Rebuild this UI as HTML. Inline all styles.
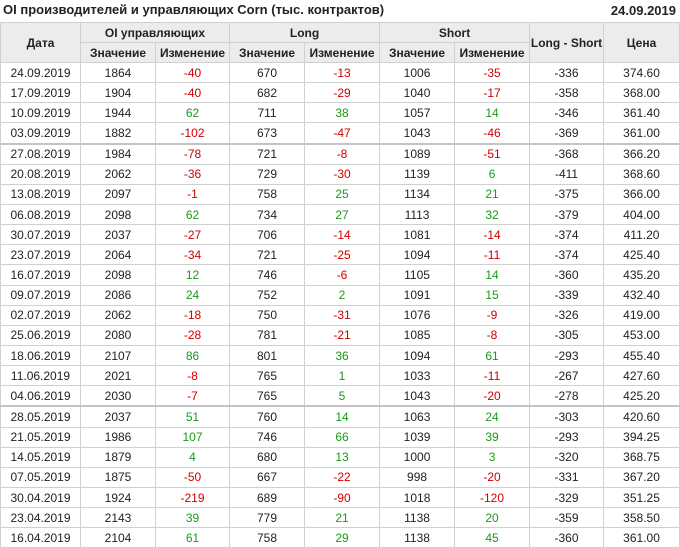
<!DOCTYPE html>
<html><head><meta charset="utf-8"><style>
body{margin:0;width:680px;height:548px;background:#fff;font-family:"Liberation Sans",Arial,sans-serif;overflow:hidden;position:relative}
.t{position:absolute;top:2px;left:3px;font-weight:bold;font-size:13px;color:#222}
.d{position:absolute;top:3px;right:4px;font-weight:bold;font-size:13px;color:#222}
table{position:absolute;top:22px;left:0;border-collapse:collapse;table-layout:fixed;width:679px;font-size:12px;color:#222}
td,th{border:1px solid #d0d0d0;text-align:center;padding:0;height:19.15px;line-height:14px;white-space:nowrap}
th{background:#ececec;font-weight:bold;font-size:12px;height:19px}
.r{color:#d00000}.g{color:#1a9a1a}
tr.s td{border-top:2px solid #c4c4c4}
</style></head><body>
<div class="t">OI производителей и управляющих Corn (тыс. контрактов)</div>
<div class="d">24.09.2019</div>
<table>
<colgroup><col style="width:80px"><col style="width:75px"><col style="width:74px"><col style="width:75px"><col style="width:75px"><col style="width:75px"><col style="width:75px"><col style="width:74px"><col style="width:76px"></colgroup>
<tr><th rowspan="2">Дата</th><th colspan="2">OI управляющих</th><th colspan="2">Long</th><th colspan="2">Short</th><th rowspan="2">Long - Short</th><th rowspan="2">Цена</th></tr>
<tr><th>Значение</th><th>Изменение</th><th>Значение</th><th>Изменение</th><th>Значение</th><th>Изменение</th></tr>
<tr><td>24.09.2019</td><td>1864</td><td class="r">-40</td><td>670</td><td class="r">-13</td><td>1006</td><td class="r">-35</td><td>-336</td><td>374.60</td></tr>
<tr><td>17.09.2019</td><td>1904</td><td class="r">-40</td><td>682</td><td class="r">-29</td><td>1040</td><td class="r">-17</td><td>-358</td><td>368.00</td></tr>
<tr><td>10.09.2019</td><td>1944</td><td class="g">62</td><td>711</td><td class="g">38</td><td>1057</td><td class="g">14</td><td>-346</td><td>361.40</td></tr>
<tr><td>03.09.2019</td><td>1882</td><td class="r">-102</td><td>673</td><td class="r">-47</td><td>1043</td><td class="r">-46</td><td>-369</td><td>361.00</td></tr>
<tr class="s"><td>27.08.2019</td><td>1984</td><td class="r">-78</td><td>721</td><td class="r">-8</td><td>1089</td><td class="r">-51</td><td>-368</td><td>366.20</td></tr>
<tr><td>20.08.2019</td><td>2062</td><td class="r">-36</td><td>729</td><td class="r">-30</td><td>1139</td><td class="g">6</td><td>-411</td><td>368.60</td></tr>
<tr><td>13.08.2019</td><td>2097</td><td class="r">-1</td><td>758</td><td class="g">25</td><td>1134</td><td class="g">21</td><td>-375</td><td>366.00</td></tr>
<tr><td>06.08.2019</td><td>2098</td><td class="g">62</td><td>734</td><td class="g">27</td><td>1113</td><td class="g">32</td><td>-379</td><td>404.00</td></tr>
<tr><td>30.07.2019</td><td>2037</td><td class="r">-27</td><td>706</td><td class="r">-14</td><td>1081</td><td class="r">-14</td><td>-374</td><td>411.20</td></tr>
<tr><td>23.07.2019</td><td>2064</td><td class="r">-34</td><td>721</td><td class="r">-25</td><td>1094</td><td class="r">-11</td><td>-374</td><td>425.40</td></tr>
<tr><td>16.07.2019</td><td>2098</td><td class="g">12</td><td>746</td><td class="r">-6</td><td>1105</td><td class="g">14</td><td>-360</td><td>435.20</td></tr>
<tr><td>09.07.2019</td><td>2086</td><td class="g">24</td><td>752</td><td class="g">2</td><td>1091</td><td class="g">15</td><td>-339</td><td>432.40</td></tr>
<tr><td>02.07.2019</td><td>2062</td><td class="r">-18</td><td>750</td><td class="r">-31</td><td>1076</td><td class="r">-9</td><td>-326</td><td>419.00</td></tr>
<tr><td>25.06.2019</td><td>2080</td><td class="r">-28</td><td>781</td><td class="r">-21</td><td>1085</td><td class="r">-8</td><td>-305</td><td>453.00</td></tr>
<tr><td>18.06.2019</td><td>2107</td><td class="g">86</td><td>801</td><td class="g">36</td><td>1094</td><td class="g">61</td><td>-293</td><td>455.40</td></tr>
<tr><td>11.06.2019</td><td>2021</td><td class="r">-8</td><td>765</td><td class="g">1</td><td>1033</td><td class="r">-11</td><td>-267</td><td>427.60</td></tr>
<tr><td>04.06.2019</td><td>2030</td><td class="r">-7</td><td>765</td><td class="g">5</td><td>1043</td><td class="r">-20</td><td>-278</td><td>425.20</td></tr>
<tr class="s"><td>28.05.2019</td><td>2037</td><td class="g">51</td><td>760</td><td class="g">14</td><td>1063</td><td class="g">24</td><td>-303</td><td>420.60</td></tr>
<tr><td>21.05.2019</td><td>1986</td><td class="g">107</td><td>746</td><td class="g">66</td><td>1039</td><td class="g">39</td><td>-293</td><td>394.25</td></tr>
<tr><td>14.05.2019</td><td>1879</td><td class="g">4</td><td>680</td><td class="g">13</td><td>1000</td><td class="g">3</td><td>-320</td><td>368.75</td></tr>
<tr><td>07.05.2019</td><td>1875</td><td class="r">-50</td><td>667</td><td class="r">-22</td><td>998</td><td class="r">-20</td><td>-331</td><td>367.20</td></tr>
<tr><td>30.04.2019</td><td>1924</td><td class="r">-219</td><td>689</td><td class="r">-90</td><td>1018</td><td class="r">-120</td><td>-329</td><td>351.25</td></tr>
<tr><td>23.04.2019</td><td>2143</td><td class="g">39</td><td>779</td><td class="g">21</td><td>1138</td><td class="g">20</td><td>-359</td><td>358.50</td></tr>
<tr><td>16.04.2019</td><td>2104</td><td class="g">61</td><td>758</td><td class="g">29</td><td>1138</td><td class="g">45</td><td>-360</td><td>361.00</td></tr>
</table>
</body></html>
